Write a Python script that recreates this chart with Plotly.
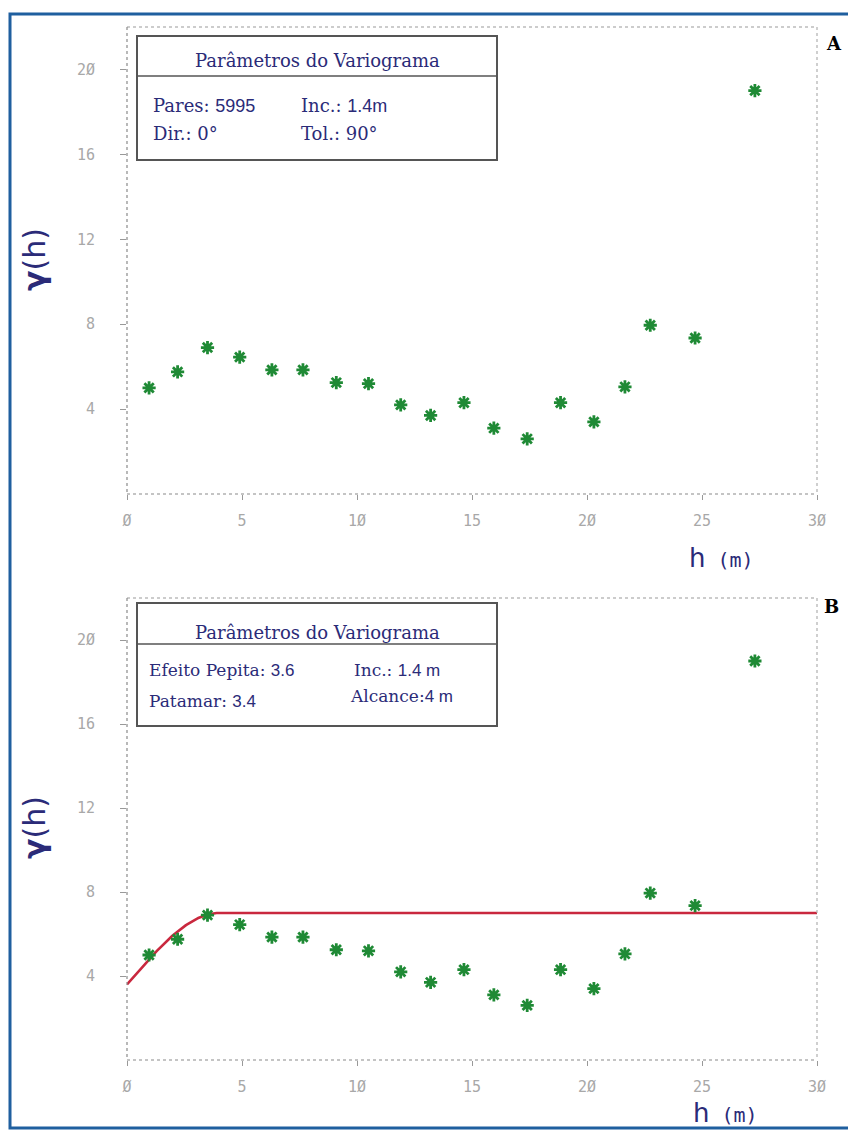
import numpy as np
import plotly.graph_objects as go

# Experimental semivariogram (lag distance in m, semivariance)
lag_h = [0.96, 2.2, 3.5, 4.9, 6.3, 7.65, 9.1, 10.5, 11.9, 13.2, 14.65,
         15.95, 17.4, 18.85, 20.3, 21.65, 22.75, 24.7, 27.3]
gamma_exp = [5.0, 5.75, 6.9, 6.45, 5.85, 5.85, 5.25, 5.2, 4.2, 3.7, 4.3,
             3.1, 2.6, 4.3, 3.4, 5.05, 7.95, 7.35, 19.0]

# Fitted spherical model parameters
nugget = 3.6      # efeito pepita
sill = 3.4        # patamar (contribuição)
vrange = 4.0      # alcance (m)

x_ticks = [0, 5, 10, 15, 20, 25, 30]
x_tick_text = ["Ø", "5", "1Ø", "15", "2Ø", "25", "3Ø"]
y_ticks = [4, 8, 12, 16, 20]
y_tick_text = ["4", "8", "12", "16", "2Ø"]

W, H = 848, 1130


def fx(px):
    return px / W


def fy(py):
    return 1 - py / H


hh = np.linspace(0, 30, 601)
r = np.clip(hh / vrange, 0, 1)
gamma_model = nugget + sill * (1.5 * r - 0.5 * r ** 3)

fig = go.Figure()

marker = dict(symbol="asterisk-open", size=11, color="#1f8a35",
              line=dict(width=2.8, color="#1f8a35"))

fig.add_trace(go.Scatter(x=lag_h, y=gamma_exp, mode="markers", marker=marker,
                         xaxis="x", yaxis="y", showlegend=False))
fig.add_trace(go.Scatter(x=hh, y=gamma_model, mode="lines",
                         line=dict(color="#c9283e", width=2.6),
                         xaxis="x2", yaxis="y2", showlegend=False))
fig.add_trace(go.Scatter(x=lag_h, y=gamma_exp, mode="markers", marker=marker,
                         xaxis="x2", yaxis="y2", showlegend=False))

tick_font = dict(family="DejaVu Sans Mono", size=15, color="#a8a8a8")
xcommon = dict(range=[0, 30], tickvals=x_ticks, ticktext=x_tick_text,
               ticks="outside", ticklen=5, tickcolor="#999", tickwidth=1,
               showgrid=False, zeroline=False, showline=False,
               tickfont=tick_font, ticklabelstandoff=8, fixedrange=True,
               automargin=False)
ycommon = dict(range=[0, 22], tickvals=y_ticks, ticktext=y_tick_text,
               ticks="outside", ticklen=6, tickcolor="#999", tickwidth=1,
               showgrid=False, zeroline=False, showline=False,
               tickfont=tick_font, ticklabelstandoff=22, fixedrange=True,
               automargin=False)

panels = [(27, 494), (598, 1060)]
left_px, right_px = 127, 817

fig.update_layout(
    width=W, height=H, autosize=False,
    margin=dict(l=0, r=0, t=0, b=0, pad=0),
    paper_bgcolor="white", plot_bgcolor="white",
    xaxis=dict(domain=[fx(left_px), fx(right_px)], anchor="y", **xcommon),
    yaxis=dict(domain=[fy(panels[0][1]), fy(panels[0][0])], anchor="x", **ycommon),
    xaxis2=dict(domain=[fx(left_px), fx(right_px)], anchor="y2", **xcommon),
    yaxis2=dict(domain=[fy(panels[1][1]), fy(panels[1][0])], anchor="x2", **ycommon),
)

shapes = []
# Outer frame
shapes.append(dict(type="rect", xref="paper", yref="paper",
                   x0=fx(10), x1=fx(851), y0=fy(1128), y1=fy(14),
                   line=dict(color="#1f5f9f", width=3)))

for (top, bot) in panels:
    # dotted plot borders
    for (x0, y0, x1, y1, col) in [
        (left_px, top, right_px, top, "#9a9a9a"),
        (right_px, top, right_px, bot, "#b0b0b0"),
        (left_px, top, left_px, bot, "#8a8a8a"),
        (left_px, bot, right_px, bot, "#8a8a8a"),
    ]:
        shapes.append(dict(type="line", xref="paper", yref="paper",
                           x0=fx(x0), x1=fx(x1), y0=fy(y0), y1=fy(y1),
                           line=dict(color=col, width=1.2, dash="dot")))

# Parameter boxes
boxes = [(137, 36, 497, 160, 76), (137, 603, 497, 726, 644)]
for (x0, y0, x1, y1, ydiv) in boxes:
    shapes.append(dict(type="rect", xref="paper", yref="paper",
                       x0=fx(x0), x1=fx(x1), y0=fy(y1), y1=fy(y0),
                       line=dict(color="#555555", width=2),
                       fillcolor="white"))
    shapes.append(dict(type="line", xref="paper", yref="paper",
                       x0=fx(x0), x1=fx(x1), y0=fy(ydiv), y1=fy(ydiv),
                       line=dict(color="#555555", width=1.5)))

fig.update_layout(shapes=shapes)

navy = "#2b2b78"
serif = "DejaVu Serif"
sans = "Liberation Sans"


def sans_span(t):
    return f'<span style="font-family:{sans}">{t}</span>'


ann = []


def txt(x, y, text, size=16, family=serif, color=navy, xanchor="left", **kw):
    ann.append(dict(x=fx(x), y=fy(y), xref="paper", yref="paper", text=text,
                    showarrow=False, xanchor=xanchor, yanchor="middle",
                    font=dict(family=family, size=size, color=color), **kw))


# Box A
txt(317, 61, "Parâmetros do Variograma", size=18, xanchor="center")
txt(151, 105, "Pares: " + sans_span("5995"), size=18)
txt(299, 105, "Inc.: " + sans_span("1.4m"), size=18)
txt(151, 133, "Dir.: 0°", size=18)
txt(299, 133, "Tol.: 90°", size=18)

# Box B
txt(317, 632, "Parâmetros do Variograma", size=18, xanchor="center")
txt(147, 670, "Efeito Pepita: " + sans_span("3.6"), size=17)
txt(147, 701, "Patamar: " + sans_span("3.4"), size=17)
txt(352, 670, "Inc.: " + sans_span("1.4 m"), size=17)
txt(348, 696, "Alcance:" + sans_span("4 m"), size=17)

# Panel letters
txt(834, 44, "<b>A</b>", size=18, family="DejaVu Serif", color="black", xanchor="center")
txt(831, 606, "<b>B</b>", size=18, family="DejaVu Serif", color="black", xanchor="center")

# Axis titles
for yc in (260, 828):
    txt(34, yc, "<b>γ</b>(h)", size=30, family="DejaVu Sans", xanchor="center",
        textangle=-90)
txt(721, 558, "h" + '<span style="font-family:DejaVu Sans Mono;font-size:20px"> (m)</span>',
    size=26, family="DejaVu Sans", xanchor="center")
txt(725, 1113, "h" + '<span style="font-family:DejaVu Sans Mono;font-size:20px"> (m)</span>',
    size=26, family="DejaVu Sans", xanchor="center")

fig.update_layout(annotations=ann)

# Page without default body margin so the fixed-size figure fills the window
fig.write_html(
    "out.html",
    config={"responsive": False},
    post_script="document.body.style.margin='0';"
                "document.documentElement.style.overflow='hidden';",
)
